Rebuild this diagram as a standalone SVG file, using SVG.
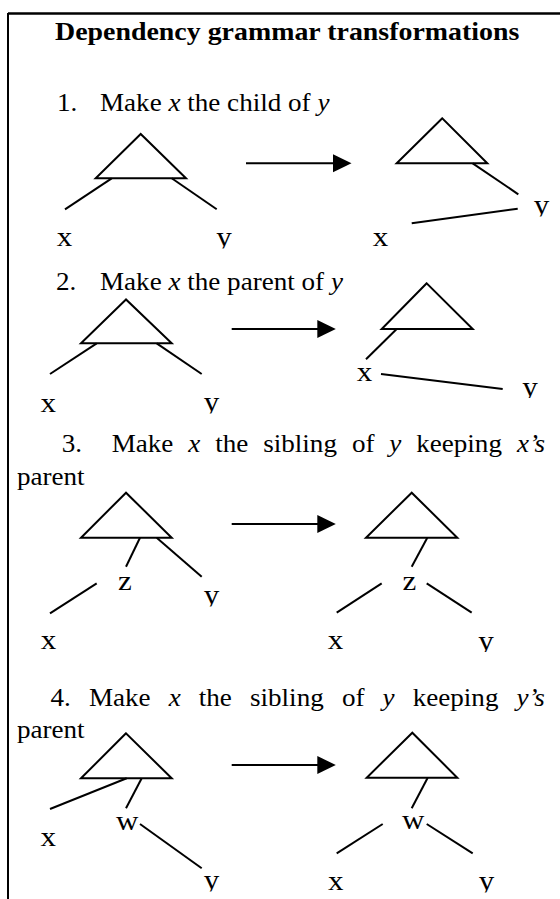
<svg xmlns="http://www.w3.org/2000/svg" width="560" height="899" viewBox="0 0 560 899">
<style>
  .t { font-family: "Liberation Serif", "Times New Roman", serif; fill: #000; }
  .title { font-size: 24.5px; font-weight: bold; }
  .h { font-size: 25.5px; }
  .i { font-style: italic; }
  .lbl { font-family: "Liberation Serif", "Times New Roman", serif; font-size: 27px; text-anchor: middle; fill: #000; }
  .ln { stroke: #000; stroke-width: 2; fill: none; }
  .tri { stroke: #000; stroke-width: 2; fill: none; stroke-linejoin: miter; }
  .arr { stroke: #000; stroke-width: 2; fill: none; marker-end: url(#head); }
</style>
<defs>
  <marker id="head" markerUnits="userSpaceOnUse" markerWidth="20" markerHeight="20" refX="2" refY="9" orient="auto">
    <path d="M0,0 L18.5,9 L0,18 Z" fill="#000"/>
  </marker>
  <clipPath id="yclip" clipPathUnits="userSpaceOnUse">
    <rect x="-30" y="-40" width="60" height="42.5"/>
  </clipPath>
</defs>
<rect x="0" y="0" width="560" height="899" fill="#fff"/>
<g id="frame">
  <line x1="8" y1="13.5" x2="560" y2="13.5" stroke="#000" stroke-width="2.6"/>
  <line x1="8" y1="13" x2="8" y2="899" stroke="#000" stroke-width="2"/>
</g>
<g id="texts">
  <text class="t title" transform="scale(1.139 1)" x="48.29" y="40.5">Dependency grammar transformations</text>
  <text class="t h" transform="scale(1.063 1)" y="111"><tspan x="53.62">1.</tspan><tspan x="94.07">Make <tspan class="i">x</tspan> the child of <tspan class="i">y</tspan></tspan></text>
  <text class="t h" transform="scale(1.063 1)" y="290"><tspan x="52.68">2.</tspan><tspan x="94.07">Make <tspan class="i">x</tspan> the parent of <tspan class="i">y</tspan></tspan></text>
  <text class="t h" transform="scale(1.063 1)" y="452"><tspan x="58.04">3.</tspan><tspan x="105.08">Make</tspan><tspan class="i" x="177.14">x</tspan><tspan x="202.45">the</tspan><tspan x="247.60">sibling</tspan><tspan x="331.05">of</tspan><tspan class="i" x="366.23">y</tspan><tspan x="391.53">keeping</tspan><tspan class="i" x="486.27">x’s</tspan></text>
  <text class="t h" transform="scale(1.063 1)" x="15.9" y="485">parent</text>
  <text class="t h" transform="scale(1.063 1)" y="706"><tspan x="47.51">4.</tspan><tspan x="83.63">Make</tspan><tspan class="i" x="158.70">x</tspan><tspan x="187.02">the</tspan><tspan x="235.18">sibling</tspan><tspan x="321.64">of</tspan><tspan class="i" x="359.92">y</tspan><tspan x="388.24">keeping</tspan><tspan class="i" x="485.98">y’s</tspan></text>
  <text class="t h" transform="scale(1.063 1)" x="15.9" y="738">parent</text>
</g>
<g id="tree1-before">
  <polygon class="tri" points="140.7,134 95.7,178.3 186,178.3"/>
  <line class="ln" x1="111.7" y1="178.3" x2="65" y2="209.3"/>
  <line class="ln" x1="171.7" y1="178.3" x2="216.7" y2="209.3"/>
  <text class="lbl" transform="translate(64.5 246) scale(1.15 1)">x</text>
  <text class="lbl" transform="translate(224 246) scale(1.15 1)" clip-path="url(#yclip)">y</text>
</g>
<g id="tree1-after">
  <polygon class="tri" points="442.3,118.3 396.7,163.3 487.3,163.3"/>
  <line class="ln" x1="472.7" y1="163.3" x2="518.3" y2="194.3"/>
  <line class="ln" x1="517.7" y1="208.7" x2="411.7" y2="223.3"/>
  <text class="lbl" transform="translate(541.5 214) scale(1.15 1)" clip-path="url(#yclip)">y</text>
  <text class="lbl" transform="translate(380.5 246) scale(1.15 1)">x</text>
</g>
<g id="tree2-before">
  <polygon class="tri" points="126,299.5 81,343.3 171.7,343.3"/>
  <line class="ln" x1="96.7" y1="343.3" x2="50" y2="374"/>
  <line class="ln" x1="156.7" y1="343.3" x2="201.7" y2="374"/>
  <text class="lbl" transform="translate(48.3 411.5) scale(1.15 1)">x</text>
  <text class="lbl" transform="translate(211.5 411) scale(1.15 1)" clip-path="url(#yclip)">y</text>
</g>
<g id="tree2-after">
  <polygon class="tri" points="426.7,283.3 381.7,329 472.7,329"/>
  <line class="ln" x1="396.7" y1="329" x2="366" y2="359.3"/>
  <line class="ln" x1="381" y1="374" x2="502.7" y2="389"/>
  <text class="lbl" transform="translate(364.5 381) scale(1.15 1)">x</text>
  <text class="lbl" transform="translate(530 395.5) scale(1.15 1)" clip-path="url(#yclip)">y</text>
</g>
<g id="tree3-before">
  <polygon class="tri" points="126,492.7 81,537.7 171.7,537.7"/>
  <line class="ln" x1="140" y1="537.7" x2="126" y2="566.7"/>
  <line class="ln" x1="156.7" y1="537.7" x2="201.7" y2="576.7"/>
  <line class="ln" x1="96.7" y1="583.3" x2="50" y2="613.3"/>
  <text class="lbl" transform="translate(125 590) scale(1.15 1)">z</text>
  <text class="lbl" transform="translate(211.5 604) scale(1.15 1)" clip-path="url(#yclip)">y</text>
  <text class="lbl" transform="translate(48.5 649.3) scale(1.15 1)">x</text>
</g>
<g id="tree3-after">
  <polygon class="tri" points="411.7,492.7 366,537.7 457.3,537.7"/>
  <line class="ln" x1="427.3" y1="537.7" x2="411.7" y2="566.7"/>
  <line class="ln" x1="381.7" y1="583.3" x2="336.7" y2="612.7"/>
  <line class="ln" x1="426.7" y1="583.3" x2="471.7" y2="612.7"/>
  <text class="lbl" transform="translate(409.5 590) scale(1.15 1)">z</text>
  <text class="lbl" transform="translate(335.5 649) scale(1.15 1)">x</text>
  <text class="lbl" transform="translate(486 649.5) scale(1.15 1)" clip-path="url(#yclip)">y</text>
</g>
<g id="tree4-before">
  <polygon class="tri" points="126,733.3 81,778.3 171.7,778.3"/>
  <line class="ln" x1="126.7" y1="778.3" x2="50" y2="809"/>
  <line class="ln" x1="141.7" y1="778.3" x2="126" y2="808.3"/>
  <line class="ln" x1="140" y1="824" x2="201.7" y2="868.3"/>
  <text class="lbl" transform="translate(127.3 830) scale(1.15 1)">w</text>
  <text class="lbl" transform="translate(48.3 846) scale(1.15 1)">x</text>
  <text class="lbl" transform="translate(211.5 889) scale(1.15 1)" clip-path="url(#yclip)">y</text>
</g>
<g id="tree4-after">
  <polygon class="tri" points="412.3,732.7 366.7,777.7 457.3,777.7"/>
  <line class="ln" x1="427.7" y1="777.7" x2="411.7" y2="808.3"/>
  <line class="ln" x1="382.7" y1="824" x2="336.7" y2="853.3"/>
  <line class="ln" x1="426.7" y1="824" x2="472.7" y2="853.3"/>
  <text class="lbl" transform="translate(413.3 829.3) scale(1.15 1)">w</text>
  <text class="lbl" transform="translate(335.8 890) scale(1.15 1)">x</text>
  <text class="lbl" transform="translate(486.5 890) scale(1.15 1)" clip-path="url(#yclip)">y</text>
</g>
<g id="connectors">
  <line class="arr" x1="246" y1="163.3" x2="335" y2="163.3"/>
  <line class="arr" x1="231.7" y1="329" x2="319.3" y2="329"/>
  <line class="arr" x1="231.7" y1="524" x2="319.3" y2="524"/>
  <line class="arr" x1="231.7" y1="765" x2="319.3" y2="765"/>
</g>
</svg>
